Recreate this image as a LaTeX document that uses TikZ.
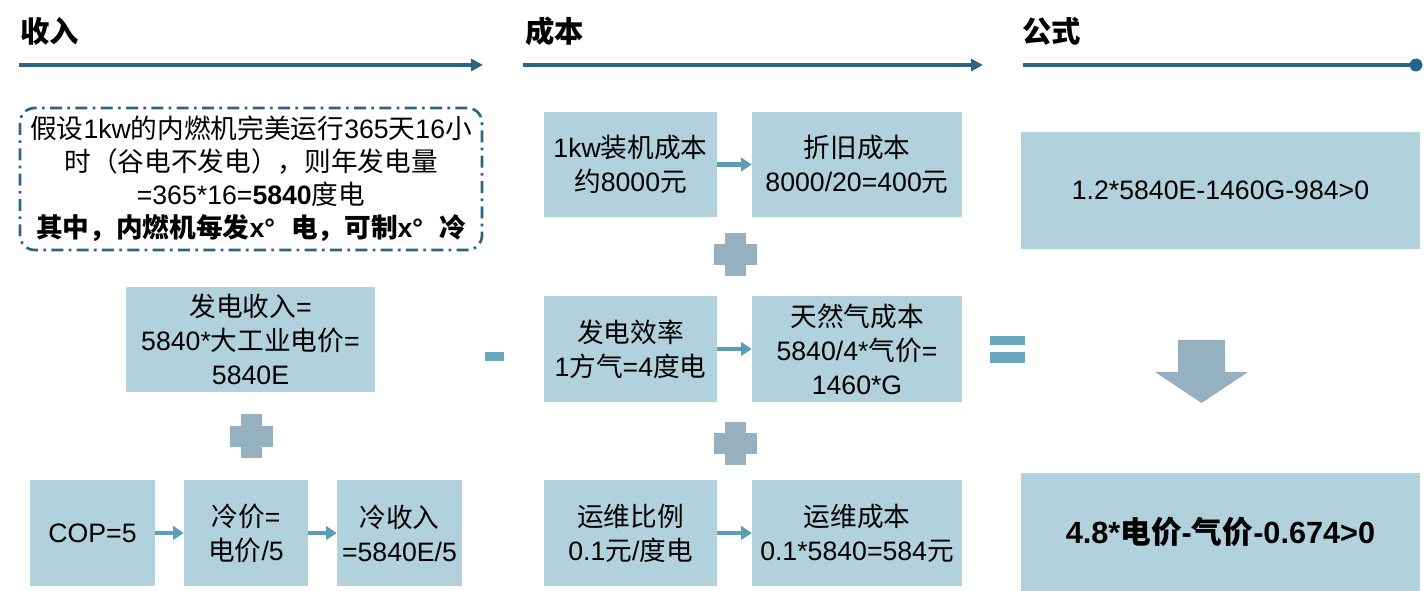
\documentclass[tikz,border=0pt]{standalone}
\usepackage{fontspec}
\setmainfont{Liberation Sans}
\newfontfamily\cjk{Noto Sans CJK SC}
\usepackage{tikz}
\usetikzlibrary{arrows.meta}
\usetikzlibrary{positioning}

\definecolor{linecol}{HTML}{2A6681}
\definecolor{dotcol}{HTML}{22658A}
\definecolor{boxcol}{HTML}{B1D1DD}
\definecolor{arrcol}{HTML}{5B9DB5}
\definecolor{signcol}{HTML}{95B0BF}
\definecolor{eqcol}{HTML}{6BA6C1}

\newcommand\zh[1]{{\cjk #1}}

\tikzset{
    infobox/.style={rectangle, fill=boxcol, align=center, inner sep=0pt,
        font=\fontsize{20}{25.5}\selectfont},
    flow/.style={draw=arrcol, line width=3.5pt, -{Triangle[length=8pt,width=10pt]}},
    header/.style={anchor=west, inner sep=0pt, font=\fontsize{22}{26}\selectfont\cjk\bfseries},
    timeline/.style={draw=linecol, line width=3pt},
}

\begin{document}
\begin{tikzpicture}[x=0.75pt, y=-0.75pt]
    \useasboundingbox (0,0) rectangle (1424,591);

    % headers and time lines
    \node[header] (hinc) at (20,31) {收入};
    \node[header] (hcost) at (525,31) {成本};
    \node[header] (hform) at (1022,31) {公式};
    \coordinate (inca) at (19,65);
    \coordinate (incb) at (483,65);
    \coordinate (costa) at (523,65);
    \coordinate (costb) at (983,65);
    \coordinate (forma) at (1023,65);
    \coordinate (formb) at (1416,65);
    \draw[timeline, -{Triangle[length=9pt,width=9pt]}] (inca) -- (incb);
    \draw[timeline, -{Triangle[length=9pt,width=9pt]}] (costa) -- (costb);
    \draw[timeline] (forma) -- (formb);
    \fill[dotcol] (formb) circle (4.8pt);

    % income
    \node[draw=linecol, line width=2pt, rounded corners=11pt,
          dash pattern=on 9pt off 4pt on 2pt off 4pt,
          minimum width=462*0.75pt, minimum height=142*0.75pt,
          align=center, inner sep=0pt, font=\fontsize{20}{24.8}\selectfont] (assume) at (251,179)
        {\zh{假设}1kw\zh{的内燃机完美运行}365\zh{天}16\zh{小}\\
         \zh{时（谷电不发电），则年发电量}\\
         =365*16=\textbf{5840}\zh{度电}\\
         \bfseries\zh{其中，内燃机每发}x°\hspace{0.6em}\zh{电，可制}x°\hspace{0.6em}\zh{冷}};

    \node[infobox, minimum width=249*0.75pt, minimum height=105*0.75pt] (elec) at (250.5,339.5)
        {\zh{发电收入}=\\5840*\zh{大工业电价}=\\5840E};
    \node[infobox, minimum width=125*0.75pt, minimum height=106*0.75pt] (cop) at (92.5,533) {COP=5};
    \node[infobox, minimum width=124*0.75pt, minimum height=106*0.75pt] (coldp) at (246,533)
        {\zh{冷价}=\\\zh{电价}/5};
    \node[infobox, minimum width=125*0.75pt, minimum height=106*0.75pt] (coldinc) at (399.5,533)
        {\zh{冷收入}\\=5840E/5};
    \draw[flow] (cop) -- (coldp);
    \draw[flow] (coldp) -- (coldinc);

    % cost
    \node[infobox, minimum width=173*0.75pt, minimum height=105*0.75pt] (cap) at (630.5,164.5)
        {1kw\zh{装机成本}\\\zh{约}8000\zh{元}};
    \node[infobox, minimum width=210*0.75pt, minimum height=105*0.75pt] (dep) at (857,164.5)
        {\zh{折旧成本}\\8000/20=400\zh{元}};
    \node[infobox, minimum width=173*0.75pt, minimum height=106*0.75pt] (eff) at (630.5,349)
        {\zh{发电效率}\\1\zh{方气}=4\zh{度电}};
    \node[infobox, minimum width=210*0.75pt, minimum height=106*0.75pt] (gas) at (857,349)
        {\zh{天然气成本}\\5840/4*\zh{气价}=\\1460*G};
    \node[infobox, minimum width=173*0.75pt, minimum height=106*0.75pt] (om) at (630.5,533)
        {\zh{运维比例}\\0.1\zh{元}/\zh{度电}};
    \node[infobox, minimum width=210*0.75pt, minimum height=106*0.75pt] (omc) at (857,533)
        {\zh{运维成本}\\0.1*5840=584\zh{元}};
    \draw[flow] (cap) -- (dep);
    \draw[flow] (eff) -- (gas);
    \draw[flow] (om) -- (omc);

    % formula
    \node[infobox, minimum width=399*0.75pt, minimum height=117*0.75pt] (form) at (1220.5,190.5)
        {1.2*5840E-1460G-984>0};
    \node[infobox, minimum width=399*0.75pt, minimum height=118*0.75pt,
          font=\fontsize{23}{27}\selectfont\bfseries] (result) at (1220.5,532)
        {4.8*\zh{电价}-\zh{气价}-0.674>0};

    % signs
    \foreach \cx/\cy in {251/436, 735/255, 735/443} {
        \fill[signcol] (\cx-21.5,\cy-10.5) rectangle (\cx+21.5,\cy+10.5);
        \fill[signcol] (\cx-10.5,\cy-21.5) rectangle (\cx+10.5,\cy+21.5);
    }
    \fill[eqcol] (485,352) rectangle (504,361);
    \fill[eqcol] (990,336) rectangle (1025,345);
    \fill[eqcol] (990,352) rectangle (1025,363);
    \fill[signcol] (1178,340) -- (1225,340) -- (1225,372) -- (1248,372)
        -- (1201.5,403) -- (1155,372) -- (1178,372) -- cycle;
\end{tikzpicture}
\end{document}
